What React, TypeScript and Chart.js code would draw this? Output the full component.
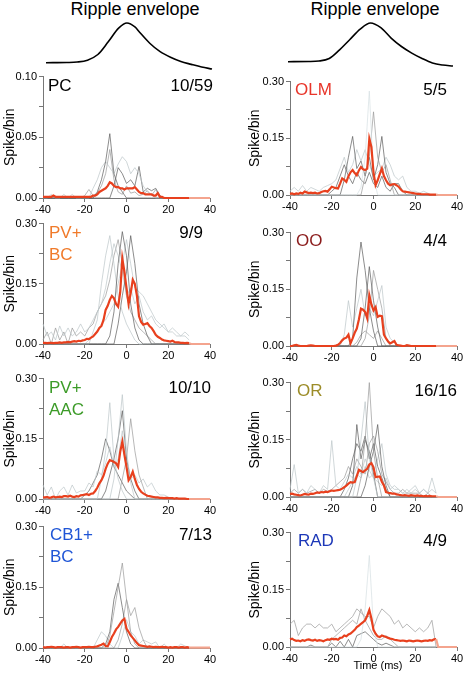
import React, { useEffect, useRef } from 'react';
import { Chart, registerables } from 'chart.js';
Chart.register(...registerables);

const FONT = '"Liberation Sans", Arial, Helvetica, sans-serif';
const RED = '#e8401e';
const PALE = '#f4a48e';
const SHADES = ['#5a5a5a', '#999999', '#bcc5c9', '#d6dfe3'];

// ---- axis ticks ----
const xTicks = [-40, -20, 0, 20, 40];
const RED_BIN = 1; // ms per bin of the mean trace (starts at -40)
const GREY_BIN = 2; // ms per bin of single-cell traces (starts at -40)

// ---- ripple envelopes ----
const envLeftT = [-40, -30, -25, -20, -15, -10, -5, -1, 3, 5, 10, 15, 20, 25, 30, 35, 40];
const envLeftV = [0.155, 0.16, 0.17, 0.21, 0.33, 0.6, 0.89, 1.0, 0.91, 0.81, 0.57, 0.39, 0.27, 0.18, 0.12, 0.064, 0.02];
const envRightT = [-40, -30, -25, -20, -15, -10, -5, 0, 5, 10, 15, 20, 25, 30, 35, 40];
const envRightV = [0.177, 0.18, 0.19, 0.245, 0.43, 0.65, 0.87, 1.0, 0.9, 0.68, 0.5, 0.36, 0.245, 0.15, 0.106, 0.085];

// ---- PC ----
const pcMean = [
  0.001,0.001,0.001,0.001,0.001,0.002,0.001,0.001,0.001,0.001,
  0.001,0.001,0.001,0.001,0.001,0.001,0.001,0.001,0.001,0.001,
  0.001,0.001,0.001,0.001,0.002,0.002,0.003,0.005,0.006,0.007,
  0.008,0.01,0.013,0.012,0.01,0.009,0.009,0.008,0.008,0.007,
  0.008,0.008,0.008,0.008,0.009,0.007,0.005,0.004,0.004,0.003,
  0.003,0.003,0.003,0.002,0.002,0.004,0.001,0.001,0,0,
  0,0,0,0,0,0,0,0,0,0,
  0,0,0,0,0,0,0,0,0,0,
  0];
const pcGrey1 = [0,0,0,0,0,0,0,0,0,0, 0,0,0,0.005,0.015,0.03,0.053,0.02,0.01,0.005, 0,0,0,0,0,0,0,0,0,0, 0,0,0,0,0,0];
const pcGrey2 = [0,0,0.003,0,0,0.003,0,0.003,0,0, 0,0,0.008,0.015,0.025,0.03,0.025,0.02,0.028,0.034, 0.03,0.02,0.025,0.02,0.01,0.005,0.003,0,0,0, 0,0,0,0,0,0];
const pcGrey3 = [0,0,0,0,0,0,0,0,0,0, 0,0,0,0,0,0,0,0.01,0.025,0.02, 0.012,0.015,0.01,0.026,0.005,0.008,0.006,0.008,0.002,0, 0,0,0,0,0,0];
const pcGrey4 = [0,0,0,0,0,0,0,0,0,0, 0.002,0.007,0.002,0.004,0.01,0.02,0.04,0.015,0.005,0.003, 0.01,0.004,0.005,0.002,0.003,0.006,0.002,0.007,0,0, 0,0,0,0,0,0];

// ---- PV+ BC ----
const bcMean = [
  0.003,0.003,0.002,0.003,0.003,0.002,0.003,0.003,0.004,0.003,
  0.004,0.004,0.005,0.004,0.006,0.007,0.006,0.008,0.007,0.009,
  0.010,0.013,0.012,0.016,0.019,0.025,0.031,0.040,0.045,0.060,
  0.085,0.095,0.110,0.120,0.114,0.100,0.093,0.130,0.213,0.180,
  0.140,0.100,0.126,0.160,0.150,0.120,0.069,0.055,0.048,0.050,
  0.052,0.045,0.040,0.032,0.023,0.018,0.015,0.011,0.009,0.008,
  0.007,0.006,0.008,0.005,0.004,0.004,0.003,0.003,0.002,0.003,
  0.002,0,0,0,0,0,0,0,0,0,
  0];
const bcGrey1 = [0,0,0,0,0,0,0,0,0,0, 0,0,0,0,0,0,0.02,0.08,0.2,0.28, 0.22,0.1,0.04,0.01,0,0,0,0,0,0, 0,0,0,0,0,0];
const bcGrey2 = [0,0,0,0,0,0,0,0,0,0, 0,0,0.03,0.06,0.15,0.22,0.27,0.2,0.12,0.08, 0.05,0.03,0.01,0,0,0,0,0,0,0, 0,0,0,0,0,0];
const bcGrey3 = [0,0,0,0,0,0,0,0,0,0, 0,0,0,0,0,0,0,0,0.05,0.12, 0.18,0.27,0.2,0.1,0.05,0.02,0,0,0,0, 0,0,0,0,0,0];
const bcGrey4 = [0.05,0.02,0.03,0.01,0.045,0.02,0.04,0.02,0.03,0.05, 0.03,0.04,0.06,0.08,0.1,0.14,0.2,0.25,0.22,0.18, 0.12,0.14,0.1,0.12,0.08,0.06,0.07,0.05,0.04,0.05, 0.03,0.04,0.03,0.02,0.03,0.02];
const bcGrey5 = [0,0,0,0,0,0,0,0,0,0, 0,0.01,0.02,0.03,0.05,0.06,0.08,0.1,0.15,0.2, 0.26,0.2,0.14,0.13,0.12,0.1,0.08,0.06,0.05,0.04, 0.03,0.03,0.02,0.02,0.02,0.01];
const bcGrey6 = [0.01,0.03,0,0.04,0.01,0.03,0,0.04,0.02,0.03, 0.02,0.04,0.05,0.08,0.1,0.12,0.16,0.22,0.26,0.2, 0.12,0.08,0.06,0.04,0.03,0.02,0.01,0,0,0, 0,0,0,0,0,0];

// ---- PV+ AAC ----
const aacMean = [
  0.004,0.004,0.005,0.003,0.004,0.006,0.004,0.005,0.006,0.005,
  0.007,0.007,0.006,0.008,0.006,0.005,0.007,0.006,0.009,0.010,
  0.011,0.012,0.010,0.013,0.014,0.020,0.028,0.039,0.047,0.058,
  0.075,0.088,0.097,0.095,0.092,0.089,0.080,0.118,0.143,0.110,
  0.080,0.047,0.055,0.068,0.050,0.035,0.025,0.018,0.014,0.011,
  0.008,0.007,0.006,0.005,0.004,0.004,0.003,0.003,0.002,0.003,
  0.002,0.002,0.002,0.001,0.002,0.001,0.001,0.001,0.001,0,
  0,0,0,0,0,0,0,0,0,0,
  0];
const aacGrey1 = [0,0,0,0,0,0,0,0,0,0, 0,0,0,0,0.05,0.12,0.24,0.1,0.05,0.02, 0,0,0,0,0,0,0,0,0,0, 0,0,0,0,0,0];
const aacGrey2 = [0,0,0,0,0,0,0,0,0,0, 0,0,0,0,0,0,0,0.05,0.15,0.26, 0.12,0.04,0,0,0,0,0,0,0,0, 0,0,0,0,0,0];
const aacGrey3 = [0,0,0,0,0,0,0,0,0,0, 0,0,0,0,0,0.02,0.06,0.1,0.15,0.22, 0.1,0.05,0.02,0,0,0,0,0,0,0, 0,0,0,0,0,0];
const aacGrey4 = [0,0,0,0,0,0,0,0,0,0, 0,0,0,0,0,0,0,0,0,0.05, 0.1,0.2,0.12,0.06,0.03,0,0,0,0,0, 0,0,0,0,0,0];
const aacGrey5 = [0.035,0.01,0.03,0,0.02,0.03,0.01,0.035,0.015,0.02, 0.02,0.04,0.03,0.07,0.06,0.09,0.13,0.08,0.1,0.17, 0.08,0.05,0.06,0.04,0.05,0.03,0.04,0.02,0.01,0.01, 0.005,0,0,0,0,0];
const aacGrey6 = [0,0,0,0,0,0,0,0,0,0, 0.01,0.02,0.04,0.06,0.1,0.15,0.12,0.08,0.06,0.04, 0.02,0.01,0,0,0,0,0,0,0,0, 0,0,0,0,0,0];

// ---- CB1+ BC ----
const cbMean = [
  0.002,0.001,0.002,0.002,0.003,0.002,0.001,0.002,0.002,0.002,
  0.001,0.002,0.002,0.001,0.002,0.002,0.003,0.002,0.001,0.002,
  0.002,0.002,0.003,0.002,0.002,0.003,0.004,0.006,0.008,0.011,
  0.005,0.004,0.015,0.027,0.036,0.046,0.052,0.060,0.068,0.072,
  0.048,0.040,0.031,0.025,0.019,0.012,0.007,0.006,0.005,0.004,
  0.003,0.004,0.003,0.002,0.003,0.002,0.002,0.003,0.002,0.002,
  0.001,0.002,0.001,0.002,0.002,0.001,0.002,0.002,0.001,0.002,
  0.001,0.001,0.001,0.001,0.001,0.001,0.001,0.001,0.001,0.001,
  0.001];
const cbGrey1 = [0,0,0,0,0,0,0,0,0,0, 0,0,0,0,0,0,0.03,0.09,0.15,0.21, 0.12,0.04,0.01,0,0,0,0,0,0,0, 0,0,0,0,0,0];
const cbGrey2 = [0,0,0,0,0,0,0,0,0,0, 0,0,0,0,0,0.01,0.04,0.12,0.16,0.1, 0.04,0.01,0,0,0,0,0,0,0,0, 0,0,0,0,0,0];
const cbGrey3 = [0,0,0,0,0,0,0,0,0,0, 0,0,0,0,0,0,0,0,0.02,0.06, 0.12,0.08,0.1,0.05,0.02,0,0,0,0,0, 0,0,0,0,0,0];
const cbGrey4 = [0.005,0,0,0,0,0.01,0,0,0,0, 0,0,0,0.02,0.04,0.03,0.01,0,0,0.03, 0.07,0.04,0.03,0.01,0.02,0.015,0.01,0.015,0,0.01, 0,0,0,0.01,0.005,0];

// ---- OLM ----
const olmMean = [
  0.003,0.004,0.002,0.004,0.003,0.006,0.004,0.009,0.007,0.005,
  0.006,0.005,0.006,0.004,0.005,0.008,0.010,0.011,0.009,0.015,
  0.022,0.020,0.018,0.017,0.030,0.044,0.040,0.035,0.050,0.060,
  0.066,0.058,0.052,0.065,0.074,0.068,0.066,0.070,0.149,0.127,
  0.060,0.026,0.039,0.055,0.070,0.050,0.039,0.030,0.026,0.028,
  0.029,0.026,0.022,0.015,0.010,0.009,0.008,0.007,0.006,0.005,
  0.004,0.003,0.003,0.002,0.002,0.002,0.002,0.001,0.001,0.001,
  0.001,0,0,0,0,0,0,0,0,0,
  0];
const olmGrey1 = [0,0,0,0,0,0,0,0,0,0, 0,0,0,0,0,0,0,0.02,0.1,0.275, 0.05,0,0,0,0,0,0,0,0,0, 0,0,0,0,0,0];
const olmGrey2 = [0,0,0,0,0,0,0,0,0,0, 0,0,0,0,0,0,0,0,0.05,0.1, 0.22,0.1,0.06,0.08,0.04,0,0,0,0,0, 0,0,0,0,0,0];
const olmGrey3 = [0,0,0,0,0,0,0,0,0,0, 0,0,0,0.04,0.1,0.155,0.07,0.09,0.05,0.1, 0.04,0.08,0.155,0.06,0.03,0.02,0,0,0,0, 0,0,0,0,0,0];
const olmGrey4 = [0.01,0.02,0.01,0.025,0.01,0.02,0.015,0.01,0.02,0.025, 0.03,0.04,0.07,0.1,0.06,0.08,0.12,0.09,0.12,0.08, 0.05,0.06,0.07,0.1,0.08,0.05,0.04,0.05,0.02,0.01, 0.01,0.005,0.01,0.005,0,0];
const olmGrey5 = [0,0,0,0,0,0,0,0,0,0, 0.01,0.02,0.05,0.08,0.05,0.03,0.06,0.04,0.03,0.06, 0.03,0.02,0.05,0.02,0.01,0.03,0.03,0.01,0,0, 0,0,0,0,0,0];

// ---- OO ----
const ooMean = [
  0,0,0.002,0.003,0.001,0,0,0,0,0.001,
  0.002,0.001,0,0,0,0,0,0,0,0,
  0,0,0.001,0.003,0.008,0.015,0.020,0.022,0.030,0.007,
  0.020,0.035,0.046,0.070,0.099,0.096,0.090,0.073,0.134,0.110,
  0.094,0.103,0.077,0.080,0.079,0.030,0.020,0.012,0.007,0.010,
  0.013,0.003,0.002,0.001,0,0,0.002,0.001,0,0,
  0,0,0,0,0,0,0,0,0,0,
  0,0,0,0,0,0,0,0,0,0,
  0];
const ooGrey1 = [0,0,0,0,0,0,0,0,0,0, 0,0,0,0,0,0.02,0.18,0.275,0.2,0.1, 0.04,0,0,0,0,0,0,0,0,0, 0,0,0,0,0,0];
const ooGrey2 = [0,0,0,0,0,0,0,0,0,0, 0,0,0,0,0,0,0,0.02,0.1,0.21, 0.12,0.05,0,0,0,0,0,0,0,0, 0,0,0,0,0,0];
const ooGrey3 = [0,0,0,0,0,0,0,0,0,0, 0,0,0,0,0,0,0,0,0.02,0.08, 0.2,0.15,0.1,0.02,0,0,0,0,0,0, 0,0,0,0,0,0];
const ooGrey4 = [0,0,0,0,0,0,0,0,0,0, 0,0,0,0.03,0.12,0.05,0.1,0.15,0.08,0.1, 0.08,0.12,0.16,0.05,0.02,0.01,0,0,0,0, 0,0,0,0,0,0];
const ooGrey5 = [0,0,0,0,0,0,0,0,0,0, 0,0,0,0,0,0,0.01,0.03,0.04,0.03, 0.02,0.04,0.02,0,0,0,0,0,0,0, 0,0,0,0,0,0];

// ---- OR ----
const orMean = [
  0.008,0.009,0.007,0.006,0.005,0.004,0.006,0.008,0.007,0.006,
  0.009,0.008,0.010,0.012,0.011,0.013,0.012,0.014,0.013,0.015,
  0.017,0.016,0.017,0.018,0.019,0.022,0.026,0.030,0.035,0.039,
  0.038,0.039,0.055,0.071,0.068,0.065,0.070,0.074,0.085,0.089,
  0.078,0.052,0.053,0.054,0.040,0.030,0.013,0.011,0.010,0.009,
  0.009,0.007,0.006,0.005,0.004,0.005,0.004,0.003,0.005,0.004,
  0.003,0.004,0.003,0.003,0.002,0.003,0.002,0.003,0.002,0.002,
  0.002,0,0,0,0,0,0,0,0,0,
  0];
const orGrey1 = [0,0,0,0,0,0,0,0,0,0, 0,0,0,0,0,0,0,0.05,0.15,0.3, 0.12,0.05,0,0,0,0,0,0,0,0, 0,0,0,0,0,0];
const orGrey2 = [0,0,0,0,0,0,0,0,0,0, 0,0,0,0,0,0,0.05,0.15,0.25,0.1, 0.05,0,0,0,0,0,0,0,0,0, 0,0,0,0,0,0];
const orGrey3 = [0,0,0,0,0,0,0,0,0,0, 0,0,0,0,0,0.03,0.19,0.1,0.15,0.12, 0.06,0,0,0,0,0,0,0,0,0, 0,0,0,0,0,0];
const orGrey4 = [0,0,0,0,0,0,0,0,0,0, 0,0,0,0,0,0,0,0,0.03,0.08, 0.12,0.19,0.08,0.03,0,0,0,0,0,0, 0,0,0,0,0,0];
const orGrey5 = [0.02,0.085,0.01,0.02,0.01,0.03,0.02,0.01,0.03,0.02, 0.148,0.03,0.02,0.04,0.06,0.05,0.08,0.06,0.1,0.07, 0.05,0.04,0.03,0.05,0.02,0.03,0.02,0.01,0.02,0.01, 0.02,0.01,0.02,0.01,0.05,0.01];
const orGrey6 = [0,0,0,0,0,0,0,0,0,0, 0,0,0,0.02,0.05,0.1,0.14,0.12,0.16,0.1, 0.14,0.08,0.05,0.02,0,0,0,0,0,0, 0,0,0,0,0,0];
const orGrey7 = [0.01,0.02,0.01,0.02,0.01,0.015,0.02,0.01,0.02,0.015, 0.02,0.03,0.04,0.05,0.08,0.06,0.1,0.08,0.06,0.14, 0.16,0.12,0.06,0.04,0.02,0.01,0.01,0.02,0.01,0.01, 0.01,0.01,0,0.01,0,0];
const orGrey8 = [0,0,0,0,0,0,0,0,0,0, 0,0,0,0,0.02,0.04,0.06,0.05,0.08,0.05, 0.06,0.1,0.14,0.06,0.03,0.02,0.02,0.01,0.01,0.02, 0.03,0.01,0.02,0.01,0.02,0.01];

// ---- RAD ----
const radMean = [
  0.020,0.022,0.018,0.016,0.017,0.015,0.018,0.016,0.019,0.020,
  0.018,0.017,0.019,0.016,0.018,0.017,0.015,0.018,0.020,0.019,
  0.022,0.020,0.021,0.019,0.024,0.025,0.030,0.028,0.033,0.035,
  0.040,0.045,0.052,0.056,0.061,0.065,0.070,0.082,0.097,0.075,
  0.045,0.035,0.028,0.026,0.030,0.028,0.026,0.024,0.022,0.021,
  0.019,0.018,0.017,0.016,0.017,0.016,0.015,0.017,0.016,0.015,
  0.016,0.017,0.016,0.015,0.016,0.017,0.016,0.018,0.017,0.020,
  0.021,0,0,0,0,0,0,0,0,0,
  0];
const radGrey1 = [0,0,0,0,0,0,0,0,0,0, 0,0,0,0,0,0,0,0.02,0.1,0.24, 0.05,0,0,0,0,0,0,0,0,0, 0,0,0,0,0,0];
const radGrey2 = [0.06,0.07,0.03,0.05,0.06,0.06,0.05,0.06,0.05,0.05, 0.06,0.04,0.05,0.06,0.07,0.08,0.1,0.09,0.08,0.08, 0.05,0.08,0.1,0.09,0.08,0.06,0.07,0.05,0.06,0.05, 0.04,0.05,0.04,0.05,0.07,0];
const radGrey3 = [0,0,0,0,0,0,0,0,0,0, 0.02,0.03,0.04,0.05,0.06,0.07,0.06,0.1,0.07,0.05, 0.03,0.02,0.02,0.03,0.02,0.01,0,0,0,0, 0,0,0,0,0,0];
const radGrey4 = [0,0,0,0,0,0.005,0,0,0,0, 0.01,0,0.015,0,0.02,0,0.03,0.035,0.04,0.03, 0.02,0.01,0.005,0.01,0.005,0,0,0,0,0, 0,0,0,0,0,0];

// ---- panel layout ----
type Spec = {
  key: string; left: number; width: number; top: number; bottom: number;
  axisW: number; padR: number; yMax: number; yStep: number; titlePad: number;
  mean: number[]; greys: number[][]; shades: number[];
};

const LEFT = { left: 0, width: 235, axisW: 43, padR: 25, titlePad: 2 };
const RIGHT = { left: 240, width: 227, axisW: 50, padR: 10, titlePad: 7 };

const specs: Spec[] = [
  { key: 'pc', ...LEFT, top: 76, bottom: 198, yMax: 0.1, yStep: 0.05, mean: pcMean, greys: [pcGrey1, pcGrey2, pcGrey3, pcGrey4], shades: [0, 2, 0, 1] },
  { key: 'bc', ...LEFT, top: 223, bottom: 344, yMax: 0.3, yStep: 0.15, mean: bcMean, greys: [bcGrey1, bcGrey2, bcGrey3, bcGrey4, bcGrey5, bcGrey6], shades: [0, 2, 0, 2, 2, 1] },
  { key: 'aac', ...LEFT, top: 378, bottom: 499, yMax: 0.3, yStep: 0.15, mean: aacMean, greys: [aacGrey1, aacGrey2, aacGrey3, aacGrey4, aacGrey5, aacGrey6], shades: [2, 2, 0, 1, 2, 0] },
  { key: 'cb', ...LEFT, top: 526, bottom: 648, yMax: 0.3, yStep: 0.15, mean: cbMean, greys: [cbGrey1, cbGrey2, cbGrey3, cbGrey4], shades: [1, 0, 1, 2] },
  { key: 'olm', ...RIGHT, top: 81, bottom: 195, yMax: 0.3, yStep: 0.15, mean: olmMean, greys: [olmGrey1, olmGrey2, olmGrey3, olmGrey4, olmGrey5], shades: [3, 1, 0, 2, 0] },
  { key: 'oo', ...RIGHT, top: 232, bottom: 346, yMax: 0.3, yStep: 0.15, mean: ooMean, greys: [ooGrey1, ooGrey2, ooGrey3, ooGrey4, ooGrey5], shades: [0, 0, 1, 2, 1] },
  { key: 'or', ...RIGHT, top: 382, bottom: 497, yMax: 0.3, yStep: 0.15, mean: orMean, greys: [orGrey1, orGrey2, orGrey3, orGrey4, orGrey5, orGrey6, orGrey7, orGrey8], shades: [1, 2, 0, 0, 2, 0, 1, 2] },
  { key: 'rad', ...RIGHT, top: 532, bottom: 647, yMax: 0.3, yStep: 0.15, mean: radMean, greys: [radGrey1, radGrey2, radGrey3, radGrey4], shades: [3, 1, 1, 0] },
];

const PAD_TOP = 8;
const X_AXIS_H = 20;

function Panel({ s }: { s: Spec }) {
  const ref = useRef<HTMLCanvasElement>(null);
  useEffect(() => {
    const datasets: any[] = [];
    datasets.push({
      data: s.mean.map((v, i) => ({ x: xTicks[0] + RED_BIN * i, y: v })),
      borderColor: RED,
      borderWidth: 2.2,
      pointRadius: 0,
      tension: 0,
      clip: 4,
      segment: { borderColor: (c: any) => (c.p0.parsed.x >= 30 ? PALE : RED) },
    });
    s.greys.forEach((g, k) => {
      datasets.push({
        data: g.map((v, i) => ({ x: xTicks[0] + GREY_BIN * i, y: v })),
        borderColor: SHADES[s.shades[k]],
        borderWidth: 0.7,
        pointRadius: 0,
        tension: 0,
        clip: 4,
      });
    });
    const tickFont = { family: FONT, size: 11 };
    const chart = new Chart(ref.current!, {
      type: 'line',
      data: { datasets },
      options: {
        responsive: false,
        animation: false,
        events: [],
        layout: { padding: { top: PAD_TOP, right: s.padR, left: 0, bottom: 0 }, autoPadding: false },
        plugins: { legend: { display: false }, tooltip: { enabled: false } },
        scales: {
          x: {
            type: 'linear', min: xTicks[0], max: xTicks[xTicks.length - 1],
            afterFit: (sc: any) => { sc.height = X_AXIS_H; },
            afterBuildTicks: (sc: any) => { sc.ticks = xTicks.map((v) => ({ value: v })); },
            ticks: { font: tickFont, color: '#000', padding: 1, autoSkip: false, maxRotation: 0 },
            grid: { drawOnChartArea: false, drawTicks: true, tickLength: 4, color: '#777' },
            border: { display: true, color: '#777', width: 1 },
          },
          y: {
            type: 'linear', min: 0, max: s.yMax,
            afterFit: (sc: any) => { sc.width = s.axisW; },
            ticks: {
              stepSize: s.yStep / 2, font: tickFont, color: '#000', padding: 2, autoSkip: false,
              callback: (v: any, i: number) => (i % 2 === 0 ? Number(v).toFixed(2) : ''),
            },
            grid: { drawOnChartArea: false, drawTicks: true, tickLength: 4, color: '#777' },
            border: { display: true, color: '#777', width: 1 },
            title: { display: true, text: 'Spike/bin', font: { family: FONT, size: 14 }, color: '#000', padding: { top: s.titlePad, bottom: 0 } },
          },
        },
      } as any,
    });
    return () => chart.destroy();
  }, [s]);
  const h = s.bottom - s.top + PAD_TOP + X_AXIS_H;
  return (
    <canvas ref={ref} width={s.width} height={h}
      style={{ position: 'absolute', left: s.left, top: s.top - PAD_TOP, width: s.width, height: h }} />
  );
}

function Envelope({ t, v, left, width }: { t: number[]; v: number[]; left: number; width: number }) {
  const ref = useRef<HTMLCanvasElement>(null);
  useEffect(() => {
    const chart = new Chart(ref.current!, {
      type: 'line',
      data: {
        datasets: [{
          data: t.map((x, i) => ({ x, y: v[i] })),
          borderColor: '#000', borderWidth: 1.6, pointRadius: 0,
          cubicInterpolationMode: 'monotone', clip: false,
        }],
      },
      options: {
        responsive: false, animation: false, events: [],
        layout: { padding: 3, autoPadding: false },
        plugins: { legend: { display: false }, tooltip: { enabled: false } },
        scales: {
          x: { type: 'linear', min: -40, max: 40, display: false },
          y: { type: 'linear', min: 0, max: 1, display: false },
        },
      } as any,
    });
    return () => chart.destroy();
  }, [t, v]);
  return (
    <canvas ref={ref} width={width + 6} height={53}
      style={{ position: 'absolute', left: left - 3, top: 20, width: width + 6, height: 53 }} />
  );
}

const txt = (extra: React.CSSProperties): React.CSSProperties => ({
  position: 'absolute', fontFamily: FONT, fontSize: 17, lineHeight: '22px', whiteSpace: 'nowrap', ...extra,
});

export default function App() {
  return (
    <div style={{ position: 'fixed', left: 0, top: 0, width: 467, height: 675, background: '#fff', overflow: 'hidden' }}>
      <div style={txt({ left: 35, width: 200, top: 0, fontSize: 18, lineHeight: '18px', textAlign: 'center' })}>Ripple envelope</div>
      <div style={txt({ left: 275, width: 200, top: 0, fontSize: 18, lineHeight: '18px', textAlign: 'center' })}>Ripple envelope</div>
      <Envelope t={envLeftT} v={envLeftV} left={46} width={166} />
      <Envelope t={envRightT} v={envRightV} left={288} width={165} />
      {specs.map((s) => <Panel key={s.key} s={s} />)}

      <div style={txt({ left: 48, top: 75, color: '#000' })}>PC</div>
      <div style={txt({ right: 467 - 213, top: 75, color: '#000' })}>10/59</div>
      <div style={txt({ left: 49, top: 222, color: '#f07a2a' })}>PV+<br />BC</div>
      <div style={txt({ right: 467 - 203, top: 222, color: '#000' })}>9/9</div>
      <div style={txt({ left: 49, top: 377, color: '#3c9b28' })}>PV+<br />AAC</div>
      <div style={txt({ right: 467 - 211, top: 377, color: '#000' })}>10/10</div>
      <div style={txt({ left: 50, top: 524, color: '#1f55d6' })}>CB1+<br />BC</div>
      <div style={txt({ right: 467 - 212, top: 524, color: '#000' })}>7/13</div>

      <div style={txt({ left: 295, top: 79, color: '#e8352a' })}>OLM</div>
      <div style={txt({ right: 467 - 447, top: 79, color: '#000' })}>5/5</div>
      <div style={txt({ left: 296, top: 230, color: '#8b1c1c' })}>OO</div>
      <div style={txt({ right: 467 - 447, top: 230, color: '#000' })}>4/4</div>
      <div style={txt({ left: 297, top: 380, color: '#9c8c28' })}>OR</div>
      <div style={txt({ right: 467 - 457, top: 380, color: '#000' })}>16/16</div>
      <div style={txt({ left: 298, top: 530, color: '#1d38b8' })}>RAD</div>
      <div style={txt({ right: 467 - 447, top: 530, color: '#000' })}>4/9</div>

      <div style={txt({ left: 328, width: 100, top: 659, fontSize: 11, lineHeight: '12px', textAlign: 'center' })}>Time (ms)</div>
    </div>
  );
}
